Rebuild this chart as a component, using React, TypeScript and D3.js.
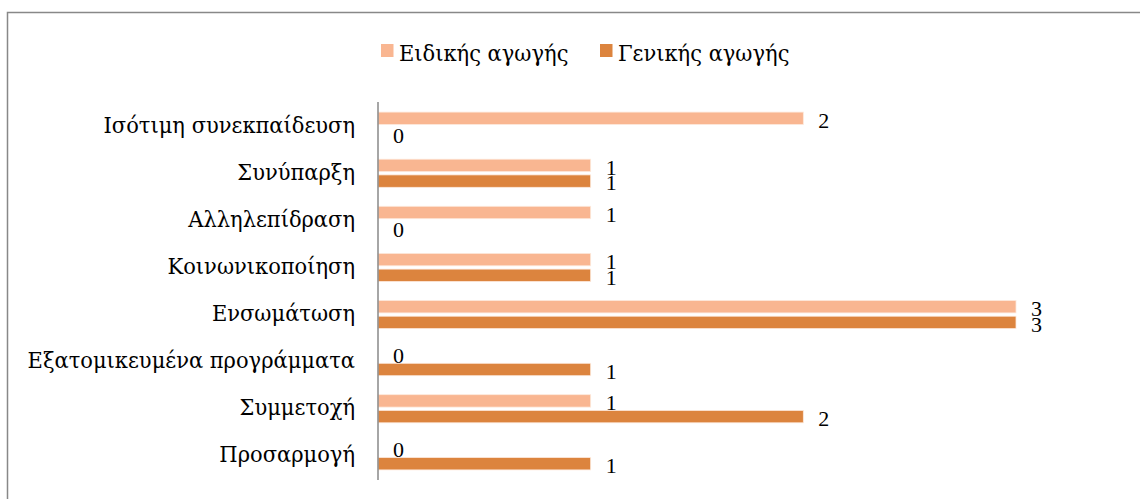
import React from "react";
import * as d3 from "d3";

const categories = [
  "Ισότιμη συνεκπαίδευση",
  "Συνύπαρξη",
  "Αλληλεπίδραση",
  "Κοινωνικοποίηση",
  "Ενσωμάτωση",
  "Εξατομικευμένα προγράμματα",
  "Συμμετοχή",
  "Προσαρμογή",
];
const seriesNames = ["Ειδικής αγωγής", "Γενικής αγωγής"];
const specialValues = [2, 1, 1, 1, 3, 0, 1, 0];
const generalValues = [0, 1, 0, 1, 3, 1, 2, 1];
const seriesColors = ["#F9B691", "#DC843E"];

const W = 1140;
const H = 499;
// Greek glyphs come from DejaVu Serif, narrowed a little; digits use Liberation Serif
const GREEK_FONT = "'DejaVu Serif', serif";
const DIGIT_FONT = "'Liberation Serif', 'Times New Roman', serif";
const GREEK_SIZE = 22.6;
const NARROW = 0.93;

export default function App() {
  const x = d3.scaleLinear().domain([0, 3]).range([378, 1016]);
  const y = d3
    .scaleBand<string>()
    .domain(categories)
    .range([102.6, 479.4])
    .paddingInner(0.403)
    .paddingOuter(0.2015);
  const inner = d3
    .scaleBand<string>()
    .domain(seriesNames)
    .range([0, y.bandwidth()])
    .paddingInner(0.21);

  const series = [specialValues, generalValues];

  return (
    <svg
      width={W}
      height={H}
      style={{ position: "absolute", left: 0, top: 0, background: "#fff" }}
    >
      {/* chart frame */}
      <path d={`M7.5,${H} V12.5 H${W}`} fill="none" stroke="#888" strokeWidth={1.5} />

      {/* legend */}
      {seriesNames.map((name, i) => {
        const lx = [381, 600][i];
        return (
          <g key={name}>
            <rect x={lx} y={44} width={12.5} height={13} fill={seriesColors[i]} />
            <text
              transform={`translate(${lx + 18},61) scale(${NARROW},1)`}
              fontFamily={GREEK_FONT}
              fontSize={GREEK_SIZE}
              fill="#000"
            >
              {name}
            </text>
          </g>
        );
      })}

      {/* bars and value labels */}
      {categories.map((cat, ci) => (
        <g key={cat} transform={`translate(0,${y(cat)})`}>
          {series.map((vals, si) => {
            const by = inner(seriesNames[si])!;
            const v = vals[ci];
            return (
              <g key={si}>
                {v > 0 && (
                  <rect
                    x={x(0)}
                    y={by}
                    width={x(v) - x(0)}
                    height={inner.bandwidth()}
                    fill={seriesColors[si]}
                    stroke="#fde9dc"
                    strokeWidth={0.8}
                  />
                )}
                <text
                  x={x(v) + 15}
                  y={by + inner.bandwidth() + 3}
                  fontFamily={DIGIT_FONT}
                  fontSize={22}
                  fill="#000"
                >
                  {v}
                </text>
              </g>
            );
          })}
          <text
            transform={`translate(355,${y.bandwidth() / 2 + 6.5}) scale(${NARROW},1)`}
            fontFamily={GREEK_FONT}
            fontSize={GREEK_SIZE}
            textAnchor="end"
            fill="#000"
          >
            {cat}
          </text>
        </g>
      ))}

      {/* category axis */}
      <line x1={378} x2={378} y1={102} y2={480} stroke="#888" strokeWidth={1.5} />
    </svg>
  );
}
